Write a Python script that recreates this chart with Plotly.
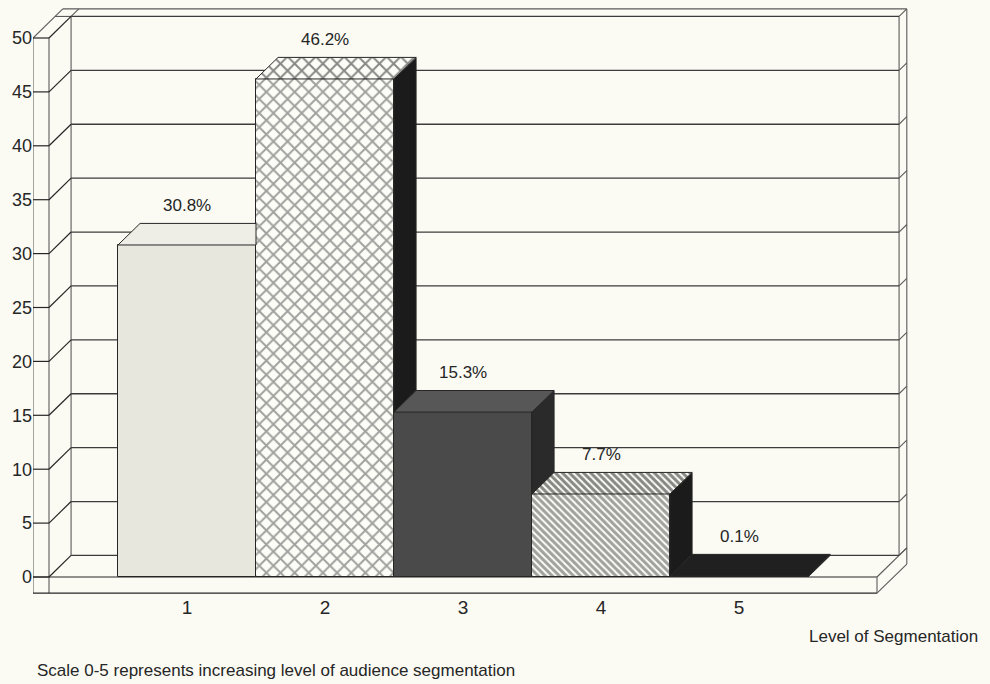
import plotly.graph_objects as go

# ---- data -------------------------------------------------------------
levels = [1, 2, 3, 4, 5]
shares = [30.8, 46.2, 15.3, 7.7, 0.1]
share_labels = ["30.8%", "46.2%", "15.3%", "7.7%", "0.1%"]
level_labels = ["1", "2", "3", "4", "5"]
y_ticks = [0, 5, 10, 15, 20, 25, 30, 35, 40, 45, 50]
x_title = "Level of Segmentation"
footnote = "Scale 0-5 represents increasing level of audience segmentation"

# ---- per-bar styling ----------------------------------------------------
front_colors = ["#e8e7de", "#fdfdf8", "#4a4a4a", "#fdfdf8", "#1e1e1e"]
top_colors = ["#efeee6", "#fdfdf8", "#575757", "#fdfdf8", "#202020"]
side_colors = ["#c9c8bf", "#1b1b1b", "#2a2a2a", "#1b1b1b", "#1b1b1b"]
hatches = ["", "x", "", "\\", ""]
hatch_sizes = [8, 10, 8, 5, 8]
hatch_solidity = [0.3, 0.36, 0.3, 0.6, 0.3]

BG = "#fbfbf4"
INK = "#262626"
HATCH_INK = "#111111"
FRAME = "#5a5a5a"
FONT = "Liberation Sans Narrow, Arial Narrow, Liberation Sans, Arial, sans-serif"

# ---- oblique 3-D geometry (axis units) --------------------------------------
DX, DY = 0.16, 2.0      # depth vector: x in category units, y in value units
BAR_W = 1.0
X0, X1 = 0.0, 6.0       # inner face of the left wall / right end of the floor
WALL = 0.116            # left wall thickness
FLOOR = 1.5             # floor slab thickness
BACK = 0.35             # back wall thickness as a fraction of the depth
YMAX = y_ticks[-1]


def proj(x, v, z):
    """Project a point (x, value, depth) onto the flat axes."""
    return x + z * DX, v + z * DY


shapes = []


def seg(p, q, color=FRAME, width=1.1):
    shapes.append(dict(type="line", xref="x", yref="y", layer="below",
                       x0=p[0], y0=p[1], x1=q[0], y1=q[1],
                       line=dict(color=color, width=width)))


zb = 1 + BACK
xl = X0 - WALL

# left wall
seg(proj(xl, -FLOOR, 0), proj(xl, YMAX, 0))
seg(proj(X0, -FLOOR, 0), proj(X0, YMAX, 0))
seg(proj(X0, 0, 1), proj(X0, YMAX, 1))
# tops of the left and back walls
seg(proj(xl, YMAX, 0), proj(xl, YMAX, zb))
seg(proj(xl, YMAX, 1), proj(X0, YMAX, 1))
seg(proj(X0, YMAX, 1), proj(X0, YMAX, zb))
seg(proj(xl, YMAX, zb), proj(X1, YMAX, zb))
# right end of the back wall
seg(proj(X1, 0, 1), proj(X1, YMAX, 1))
seg(proj(X1, -FLOOR, zb), proj(X1, YMAX, zb))
# floor slab
seg(proj(xl, 0, 0), proj(X1, 0, 0), INK, 1.2)
seg(proj(xl, -FLOOR, 0), proj(X1, -FLOOR, 0), INK, 1.2)
seg(proj(X1, -FLOOR, 0), proj(X1, 0, 0))
seg(proj(X1, 0, 0), proj(X1, 0, zb))
seg(proj(X1, -FLOOR, 0), proj(X1, -FLOOR, zb))
# grid: tick across the wall front, up the side wall, along the back wall
for t in y_ticks:
    seg(proj(xl, t, 0), proj(X0, t, 0), INK, 1.2)
    seg(proj(X0, t, 0), proj(X0, t, 1), INK, 1.2)
    seg(proj(X0, t, 1), proj(X1, t, 1), "#3c3c3c", 1.3)
    seg(proj(X1, t, 1), proj(X1, t, zb))

fig = go.Figure()

# front faces of the bars
fig.add_trace(go.Bar(
    x=levels, y=shares, width=BAR_W,
    marker=dict(color=front_colors, line=dict(color=INK, width=1),
                pattern=dict(shape=hatches, fgcolor=HATCH_INK, bgcolor=front_colors,
                             size=hatch_sizes, solidity=hatch_solidity)),
    hoverinfo="skip", showlegend=False,
))


def add_face(pts, color, hatch="", size=8, solidity=0.3):
    xs = [p[0] for p in pts] + [pts[0][0]]
    ys = [p[1] for p in pts] + [pts[0][1]]
    kw = {}
    if hatch:
        kw["fillpattern"] = dict(shape=hatch, fgcolor=HATCH_INK, bgcolor=color,
                                 size=size, solidity=solidity)
    fig.add_trace(go.Scatter(x=xs, y=ys, mode="lines", fill="toself",
                             fillcolor=color, line=dict(color=INK, width=1),
                             hoverinfo="skip", showlegend=False, **kw))


# side and top faces, left to right so each bar hides the one behind it
for i, (x, h) in enumerate(zip(levels, shares)):
    L, R = x - BAR_W / 2, x + BAR_W / 2
    nxt = shares[i + 1] if i + 1 < len(shares) else 0.0
    if h > nxt:
        add_face([proj(R, nxt, 0), proj(R, h, 0), proj(R, h, 1), proj(R, nxt, 1)],
                 side_colors[i])
    if nxt > h:
        top = [proj(L, h, 0), proj(R, h, 0), proj(R - DX, h, 1), proj(L, h, 1)]
    else:
        top = [proj(L, h, 0), proj(R, h, 0), proj(R, h, 1), proj(L, h, 1)]
    add_face(top, top_colors[i], hatches[i], hatch_sizes[i], hatch_solidity[i])

annotations = []
for x, h, lab in zip(levels, shares, share_labels):
    annotations.append(dict(x=x, y=h + DY, xref="x", yref="y", text=lab,
                            showarrow=False, yanchor="middle", yshift=18,
                            font=dict(size=17, color=INK, family=FONT)))
annotations.append(dict(x=0.899, y=-0.072, xref="paper", yref="paper",
                        text=x_title, showarrow=False, xanchor="center",
                        yanchor="middle", font=dict(size=17, color=INK, family=FONT)))
annotations.append(dict(x=0.002, y=-0.128, xref="paper", yref="paper",
                        text=footnote, showarrow=False, xanchor="left",
                        yanchor="middle", font=dict(size=17, color=INK, family=FONT)))

fig.update_layout(
    width=990, height=684,
    margin=dict(l=33, r=0, t=0, b=90),
    paper_bgcolor=BG, plot_bgcolor=BG,
    font=dict(family=FONT, color=INK, size=17),
    showlegend=False, bargap=0,
    shapes=shapes, annotations=annotations,
)
fig.update_xaxes(range=[-0.11594, 6.81884], tickvals=levels, ticktext=level_labels,
                 showgrid=False, zeroline=False, showline=False, ticks="",
                 tickfont=dict(size=19), fixedrange=True)
fig.update_yaxes(range=[-1.577, 53.525], tickvals=y_ticks, showgrid=False,
                 zeroline=False, showline=False, ticks="",
                 tickfont=dict(size=18), fixedrange=True)

fig.write_html("out.html")
